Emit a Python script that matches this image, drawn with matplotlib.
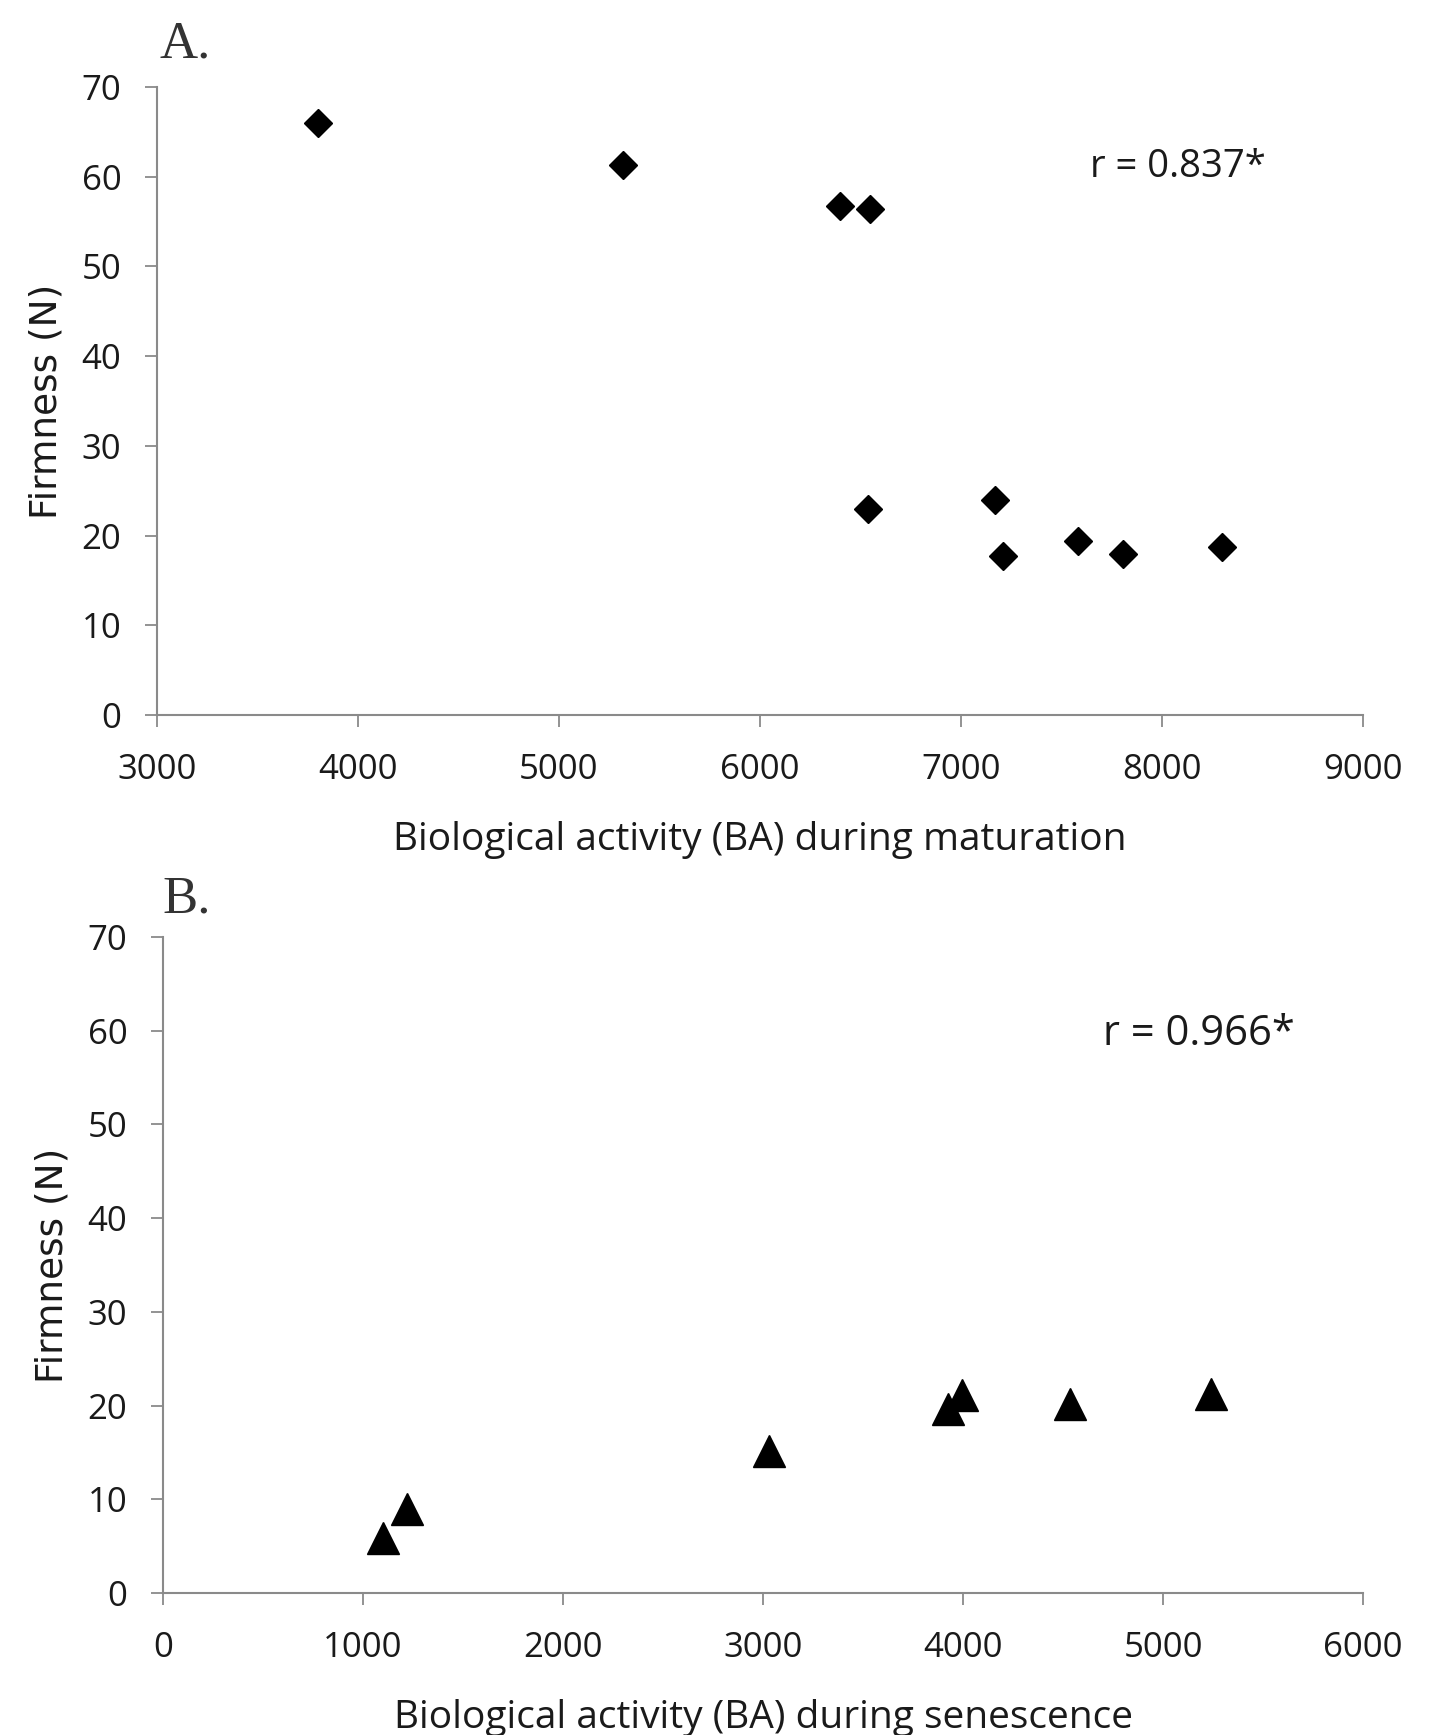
import matplotlib
matplotlib.use("Agg")
from matplotlib import pyplot as plt

# panel A: maturation
ba_mat = [3800, 5320, 6400, 6545, 6535, 7170, 7210, 7580, 7805, 8300]
firm_mat = [66.0, 61.3, 56.7, 56.4, 23.0, 24.0, 17.7, 19.4, 18.0, 18.7]
# panel B: senescence
ba_sen = [1100, 1218, 3030, 3925, 3995, 4535, 5240]
firm_sen = [5.9, 9.0, 15.1, 19.6, 21.1, 20.2, 21.2]

xticks_a = [3000, 4000, 5000, 6000, 7000, 8000, 9000]
xticks_b = [0, 1000, 2000, 3000, 4000, 5000, 6000]
yticks = [0, 10, 20, 30, 40, 50, 60, 70]

W, H = 1438, 1735
fig = plt.figure(figsize=(W / 100, H / 100), dpi=100)

grey = "#8a8a8a"
txt = "#1a1a1a"
tick_font = "Open Sans"


def px(x, y):
    return x / W, 1 - y / H


def style(ax, xticks, xlabel, ylabel_x):
    ax.set_yticks(yticks)
    ax.set_xticks(xticks)
    ax.set_ylim(0, 70)
    ax.set_xlim(xticks[0], xticks[-1])
    for s in ["top", "right"]:
        ax.spines[s].set_visible(False)
    for s in ["left", "bottom"]:
        ax.spines[s].set_color(grey)
        ax.spines[s].set_linewidth(1.5)
    ax.tick_params(direction="out", length=8.6, width=1.3, color=grey,
                   labelcolor=txt, labelsize=25, pad=17)
    ax.tick_params(axis="x", pad=19)
    for lab in ax.get_xticklabels() + ax.get_yticklabels():
        lab.set_family(tick_font)
    ax.set_xlabel(xlabel, family=tick_font, fontsize=28, color=txt, labelpad=24)
    ax.set_ylabel("Firmness (N)", family="DejaVu Sans", fontsize=27, color=txt)
    ax.yaxis.label.set_va("center")
    ax.yaxis.set_label_coords(ylabel_x, 0.5)


# A
l, b = px(157, 715)
r, t = px(1363, 87)
ax1 = fig.add_axes([l, b, r - l, t - b])
ax1.plot(ba_mat, firm_mat, linestyle="none", marker="D", markersize=14.5,
         color="black", clip_on=False)
style(ax1, xticks_a, "Biological activity (BA) during maturation", (47 - 157) / 1206)

# B
l, b = px(163, 1593)
r, t = px(1363, 937)
ax2 = fig.add_axes([l, b, r - l, t - b])
ax2.plot(ba_sen, firm_sen, linestyle="none", marker="^", markersize=23,
         color="black", clip_on=False)
style(ax2, xticks_b, "Biological activity (BA) during senescence", (52 - 163) / 1200)

fig.text(*px(160, 57), "A.", family="Liberation Serif", fontsize=38, color="#333333",
         va="baseline", ha="left")
fig.text(*px(162, 912), "B.", family="Liberation Serif", fontsize=38, color="#333333",
         va="baseline", ha="left")
fig.text(*px(1090, 177), "r = 0.837*", family=tick_font, fontsize=27.5, color=txt,
         va="baseline", ha="left")
fig.text(*px(1103, 1045), "r = 0.966*", family=tick_font, fontsize=30, color=txt,
         va="baseline", ha="left")

fig.savefig("out.png", dpi=100)
